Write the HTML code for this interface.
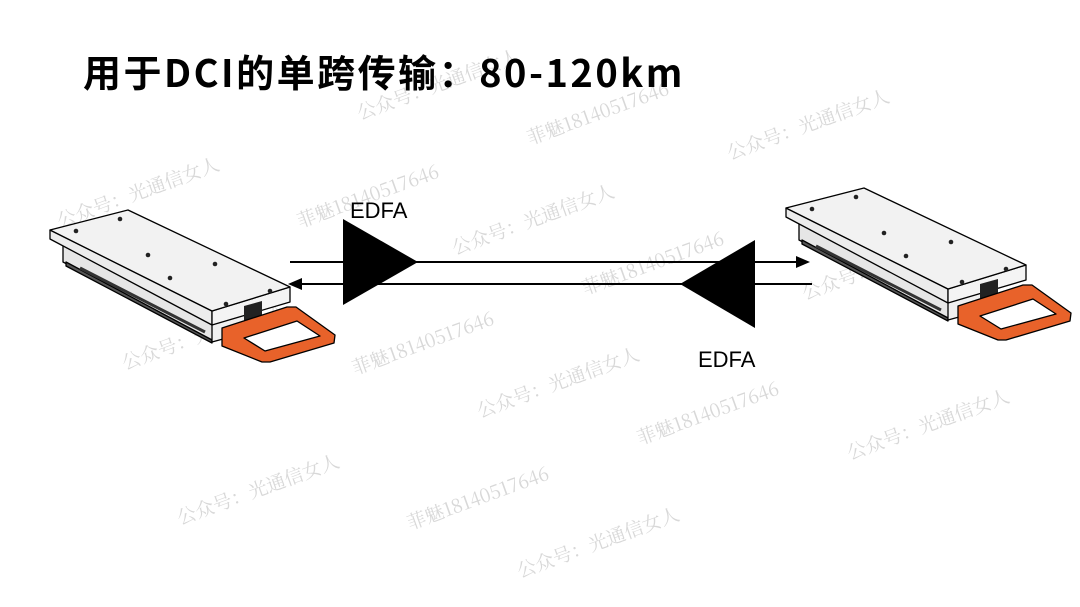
<!DOCTYPE html>
<html><head><meta charset="utf-8"><style>
html,body{margin:0;padding:0;background:#fff;}
body{width:1080px;height:607px;overflow:hidden;position:relative;}
svg{position:absolute;left:0;top:0;}
</style></head><body>
<svg width="1080" height="607" viewBox="0 0 1080 607" xmlns="http://www.w3.org/2000/svg">
<defs>
<g id="mod" stroke="#000" stroke-width="1.3" stroke-linejoin="round">
  <polygon points="63,240 63,262 212,340 245,332 245,300" fill="#e6e6e6"/>
  <polygon points="66,262 212,340 212,343 66,266" fill="#555"/>
  <line x1="80" y1="268" x2="205" y2="332" stroke="#333" stroke-width="3"/>
  <polygon points="212,323 212,342 245,333 245,314" fill="#f0f0f0"/>
  <polygon points="50,230 50,239 212,325 212,311" fill="#ececec"/>
  <polygon points="212,311 212,325 290,302 290,287" fill="#f4f4f4"/>
  <polygon points="50,230 128,210 290,287 212,311" fill="#f2f2f2"/>
  <g fill="#222" stroke="none">
    <circle cx="76" cy="231" r="2.3"/><circle cx="120" cy="219" r="2.3"/>
    <circle cx="148" cy="255" r="2.3"/><circle cx="215" cy="264" r="2.3"/>
    <circle cx="170" cy="278" r="2.3"/><circle cx="270" cy="291" r="2.3"/>
    <circle cx="226" cy="304" r="2.3"/>
  </g>
  <polygon points="244,306 262,301 262,317 244,322" fill="#222" stroke="none"/>
  <path d="M222,328 L287,307 L296,307 L335,335 L334,343 L270,362 L262,362 L222,346 Z M244,338 L265,351 L320,336 L297,321 Z" fill="#e8622a" fill-rule="evenodd"/>
</g>
</defs>

<g font-family="'Noto Serif CJK SC','Liberation Serif',serif" font-size="19" fill="#d8d8d8">
  <text transform="translate(60,228) rotate(-20)">公众号：光通信女人</text>
  <text transform="translate(300,228) rotate(-20)">菲魅18140517646</text>
  <text transform="translate(360,120) rotate(-20)">公众号：光通信女人</text>
  <text transform="translate(530,145) rotate(-20)">菲魅18140517646</text>
  <text transform="translate(730,160) rotate(-20)">公众号：光通信女人</text>
  <text transform="translate(455,255) rotate(-20)">公众号：光通信女人</text>
  <text transform="translate(585,295) rotate(-20)">菲魅18140517646</text>
  <text transform="translate(805,300) rotate(-20)">公众号：光通信女人</text>
  <text transform="translate(125,370) rotate(-20)">公众号：光通信女人</text>
  <text transform="translate(355,375) rotate(-20)">菲魅18140517646</text>
  <text transform="translate(480,418) rotate(-20)">公众号：光通信女人</text>
  <text transform="translate(640,445) rotate(-20)">菲魅18140517646</text>
  <text transform="translate(850,460) rotate(-20)">公众号：光通信女人</text>
  <text transform="translate(180,525) rotate(-20)">公众号：光通信女人</text>
  <text transform="translate(410,530) rotate(-20)">菲魅18140517646</text>
  <text transform="translate(520,578) rotate(-20)">公众号：光通信女人</text>
</g>

<text x="83" y="87" font-family="'Noto Sans CJK SC','Liberation Sans',sans-serif" font-weight="bold" font-size="38" letter-spacing="2.5" fill="#000">用于DCI的单跨传输：80-120km</text>

<use href="#mod"/>
<use href="#mod" transform="translate(736,-22)"/>

<line x1="290" y1="262" x2="798" y2="262" stroke="#000" stroke-width="2"/>
<polygon points="810,262 796,256 796,268" fill="#000"/>
<line x1="300" y1="284" x2="812" y2="284" stroke="#000" stroke-width="2"/>
<polygon points="288,284 302,278 302,290" fill="#000"/>

<polygon points="343,219 343,305 418,262" fill="#000"/>
<polygon points="755,240 755,328 680,284" fill="#000"/>
<text x="350" y="218" font-family="'Liberation Sans','Noto Sans CJK SC',sans-serif" font-size="22" fill="#000">EDFA</text>
<text x="698" y="367" font-family="'Liberation Sans','Noto Sans CJK SC',sans-serif" font-size="22" fill="#000">EDFA</text>
</svg>
</body></html>
